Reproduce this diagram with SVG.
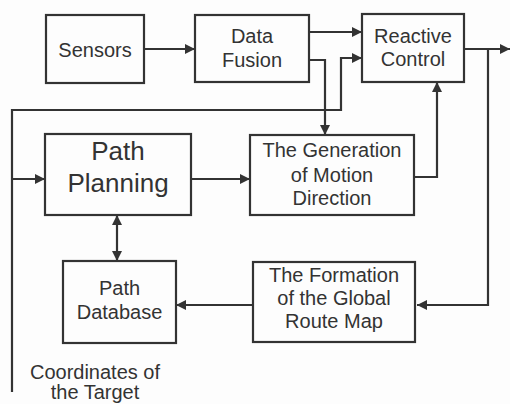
<svg xmlns="http://www.w3.org/2000/svg" width="510" height="404" viewBox="0 0 510 404">
<style>
.box{fill:none;stroke:#333;stroke-width:2.2}
.t{font-family:"Liberation Sans",Arial,sans-serif;font-size:20px;fill:#333;text-anchor:middle}
.big{font-size:26px}
.c{fill:none;stroke:#333;stroke-width:2.2}
</style>
<defs>
<marker id="ah" viewBox="0 0 10 10" refX="10" refY="5" markerWidth="11" markerHeight="10" markerUnits="userSpaceOnUse" orient="auto-start-reverse">
<path d="M0,0 L10,5 L0,10 z" fill="#333"/>
</marker>
</defs>
<rect width="510" height="404" fill="#fdfdfd"/>
<g id="connectors">
<path class="c" d="M144,49 H195" marker-end="url(#ah)"/>
<path class="c" d="M309,32 H362" marker-end="url(#ah)"/>
<path class="c" d="M309,60 H325 V135" marker-end="url(#ah)"/>
<path class="c" d="M12,392 V110 H341 V58 H362" marker-end="url(#ah)"/>
<path class="c" d="M12,179 H45" marker-end="url(#ah)"/>
<path class="c" d="M191,179 H250" marker-end="url(#ah)"/>
<path class="c" d="M414,177 H437 V82" marker-end="url(#ah)"/>
<path class="c" d="M464,49 H510" marker-end="url(#ah)"/>
<path class="c" d="M488,49 V305 H417" marker-end="url(#ah)"/>
<path class="c" d="M253,305 H176" marker-end="url(#ah)"/>
<path class="c" d="M117,215 V261" marker-start="url(#ah)" marker-end="url(#ah)"/>
</g>
<g id="sensors">
<rect class="box" x="46" y="15" width="98" height="68"/>
<text class="t" x="95" y="57">Sensors</text>
</g>
<g id="data-fusion">
<rect class="box" x="195" y="15" width="114" height="67"/>
<text class="t" x="252" y="43">Data</text>
<text class="t" x="252" y="67">Fusion</text>
</g>
<g id="reactive-control">
<rect class="box" x="362" y="14" width="102" height="68"/>
<text class="t" x="413" y="43">Reactive</text>
<text class="t" x="413" y="66">Control</text>
</g>
<g id="path-planning">
<rect class="box" x="45" y="134" width="146" height="81"/>
<text class="t big" x="118" y="160">Path</text>
<text class="t big" x="118" y="192">Planning</text>
</g>
<g id="generation">
<rect class="box" x="250" y="135" width="164" height="80"/>
<text class="t" x="332" y="157">The Generation</text>
<text class="t" x="332" y="182">of Motion</text>
<text class="t" x="332" y="205">Direction</text>
</g>
<g id="path-database">
<rect class="box" x="63" y="261" width="113" height="82"/>
<text class="t" x="119.5" y="295">Path</text>
<text class="t" x="119.5" y="319">Database</text>
</g>
<g id="formation">
<rect class="box" x="253" y="262" width="162" height="80"/>
<text class="t" x="334" y="282">The Formation</text>
<text class="t" x="334" y="305">of the Global</text>
<text class="t" x="334" y="328">Route Map</text>
</g>
<g id="target">
<text class="t" x="95" y="379">Coordinates of</text>
<text class="t" x="95" y="399">the Target</text>
</g>
</svg>
